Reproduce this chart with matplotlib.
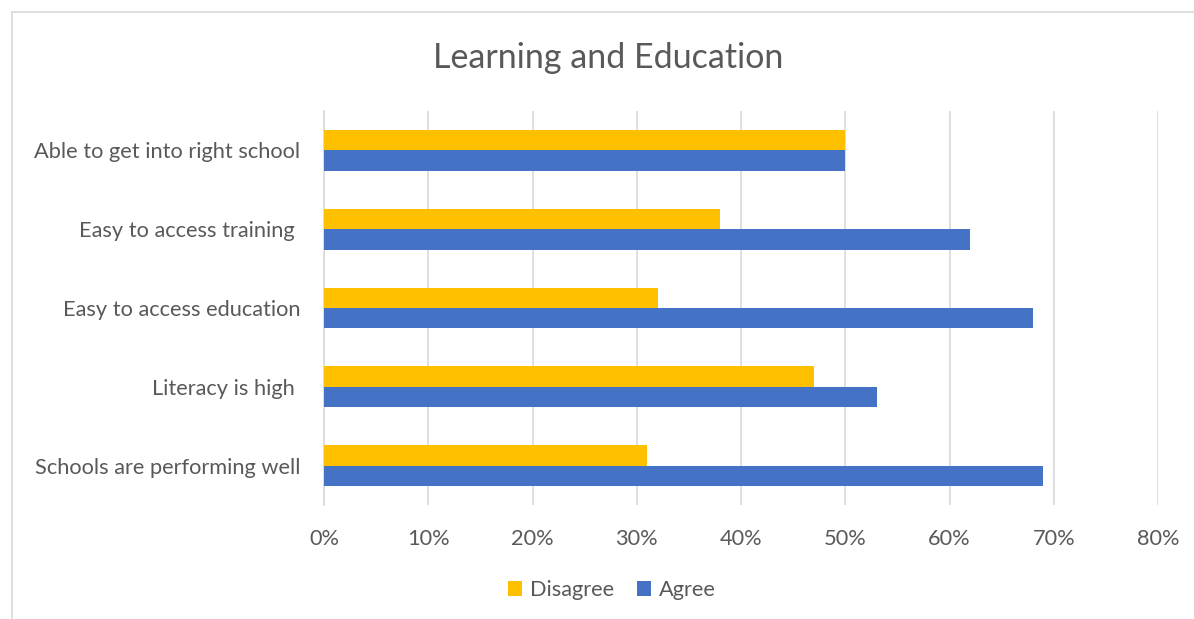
import matplotlib.pyplot as plt
import numpy as np
from matplotlib.patches import Rectangle
from matplotlib.ticker import PercentFormatter

categories = ["Able to get into right school", "Easy to access training ",
              "Easy to access education", "Literacy is high ",
              "Schools are performing well"]
disagree = [50, 38, 32, 47, 31]
agree = [50, 62, 68, 53, 69]

plt.rcParams['font.family'] = ['Lato', 'DejaVu Sans']
txt = '#595959'
grid = '#D9D9D9'

fig = plt.figure(figsize=(11.94, 6.19), dpi=100)
# chart border (cut off on right and bottom as in the screenshot)
fig.patches.append(Rectangle((12 / 1194, -0.1), 1.2, 1 - 12 / 619 + 0.1,
                             transform=fig.transFigure, fill=False,
                             edgecolor=grid, linewidth=1.2))

ax = fig.add_axes([324 / 1194, 1 - 505 / 619, (1158 - 324) / 1194, (505 - 111) / 619])

y = np.arange(len(categories))
h = 0.26
ax.barh(y - h / 2, disagree, height=h, color='#FFC000', label='Disagree', zorder=3)
ax.barh(y + h / 2, agree, height=h, color='#4472C4', label='Agree', zorder=3)

ax.set_ylim(len(categories) - 0.5, -0.5)
ax.set_xlim(0, 80)
ax.set_xticks(range(0, 81, 10))
ax.xaxis.set_major_formatter(PercentFormatter(decimals=0))
ax.set_yticks(y)
ax.set_yticklabels(categories)

ax.grid(axis='x', color=grid, linewidth=1.2, zorder=0)
for s in ['top', 'right', 'bottom']:
    ax.spines[s].set_visible(False)
ax.spines['left'].set_color(grid)
ax.spines['left'].set_linewidth(1.2)
ax.tick_params(axis='both', length=0, labelsize=15.7, colors=txt)
ax.tick_params(axis='x', pad=17)
ax.tick_params(axis='y', pad=17)

fig.text(0.5097, 1 - 58 / 619, "Learning and Education", ha='center', va='center',
         fontsize=24.5, color=txt)

leg = fig.legend(loc='center', bbox_to_anchor=(612 / 1194, 1 - 590 / 619), ncol=2,
                 frameon=False, fontsize=15.7, handlelength=0.65, handleheight=0.65,
                 handletextpad=0.35, columnspacing=1.05)
for t in leg.get_texts():
    t.set_color(txt)

fig.savefig('out.png', dpi=100)
